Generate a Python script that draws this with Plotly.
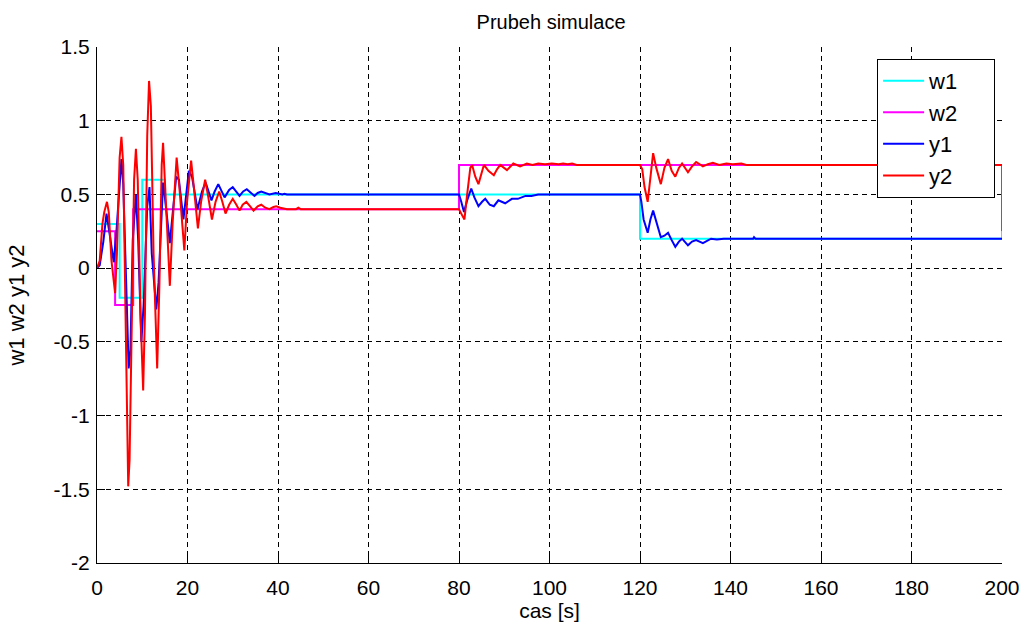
import plotly.graph_objects as go

# Reference signals (piecewise constant, drawn as steps)
w1_t = [0, 5, 10, 15, 120, 200]
w1_v = [0.3, -0.2, 0.6, 0.5, 0.2, 0.25]

w2_t = [0, 4, 8, 80, 200]
w2_v = [0.25, -0.25, 0.4, 0.7, 0.25]

# Output y1
y1_t = [0, 0.6, 1.4, 2.1, 2.9, 3.7, 4.3, 5.0, 5.4, 5.8, 6.5, 7.0, 7.4, 7.9, 8.6, 9.1,
        9.8, 10.3, 11.1, 11.6, 12.1, 13.1, 13.6, 14.6, 15.0, 16.1, 17.5, 18.1, 19.1,
        20.3, 21.0, 22.2, 23.2, 24.0, 25.3, 26.0, 26.8, 28.2, 29.2, 30.0, 31.5, 32.3,
        33.1, 34.8, 35.5, 36.3, 38.1, 39.5, 41.0, 41.4, 42.0, 80.0, 80.5, 81.1, 81.8,
        82.7, 83.4, 84.3, 85.1, 85.8, 86.8, 87.7, 88.7, 89.5, 90.2, 91.7, 93.0, 94.7,
        96.0, 97.5, 98.5, 120.0, 120.3, 120.8, 121.7, 122.3, 122.9, 123.6, 124.6, 125.4,
        126.2, 127.0, 127.8, 128.6, 129.3, 130.6, 131.5, 132.4, 133.9, 135.7, 137.0,
        138.5, 145.0, 145.2, 145.5, 200.0]
y1_v = [0, 0.02, 0.18, 0.37, 0.21, 0.04, 0.25, 0.6, 0.74, 0.57, -0.1, -0.68, -0.55, 0.19,
        0.5, 0.19, -0.5, -0.25, 0.42, 0.55, 0.1, -0.28, -0.1, 0.58, 0.48, 0.17, 0.62, 0.6,
        0.33, 0.66, 0.62, 0.40, 0.52, 0.58, 0.46, 0.52, 0.57, 0.48, 0.53, 0.55, 0.49, 0.52,
        0.535, 0.49, 0.51, 0.52, 0.50, 0.51, 0.5, 0.505, 0.5, 0.5, 0.45, 0.38, 0.46,
        0.54, 0.48, 0.42, 0.45, 0.47, 0.43, 0.42, 0.46, 0.45, 0.44, 0.47, 0.47, 0.49,
        0.49, 0.50, 0.5, 0.5, 0.45, 0.33, 0.24, 0.33, 0.39, 0.32, 0.21, 0.22,
        0.24, 0.19, 0.145, 0.18, 0.20, 0.155, 0.18, 0.19, 0.17, 0.20, 0.195,
        0.2, 0.2, 0.21, 0.2, 0.2]

# Output y2
y2_t = [0, 0.6, 1.2, 1.6, 2.2, 2.6, 3.2, 4.0, 4.4, 5.0, 5.4, 5.8, 6.3, 6.9, 7.2, 7.7,
        8.2, 8.6, 9.0, 9.6, 10.2, 10.6, 11.1, 11.5, 11.9, 12.5, 13.3, 13.8, 14.3, 14.6,
        15.1, 16.1, 16.7, 17.6, 18.2, 19.3, 19.9, 20.8, 21.4, 22.3, 23.0, 23.9, 24.6,
        25.4, 26.2, 27.0, 27.7, 28.4, 29.2, 30.0, 30.8, 31.5, 32.2, 33.0, 33.8, 34.6,
        35.5, 36.3, 37.2, 38.1, 39.0, 39.6, 40.5, 41.2, 42.0, 44.0, 44.5, 45.0,
        80.0, 80.5, 81.2, 81.8, 82.5, 82.9, 83.6, 84.3, 85.0, 85.5, 86.5, 87.7, 88.4,
        89.1, 90.6, 92.0, 93.5, 95.0, 96.2, 97.5, 99.0, 100.5, 102.0, 103.0, 104.0,
        105.0, 106.0, 120.0, 120.5, 121.0, 121.7, 122.3, 122.9, 123.6, 124.6, 125.4,
        126.2, 127.0, 127.8, 128.6, 129.3, 130.6, 131.5, 132.4, 133.9, 135.0, 136.1,
        137.5, 139.1, 140.5, 142.4, 143.5, 200.0]
y2_v = [0, 0.05, 0.3, 0.38, 0.45, 0.38, 0.05, -0.17, 0.1, 0.75, 0.89, 0.7, -0.3, -1.48,
        -1.3, -0.2, 0.6, 0.81, 0.6, -0.3, -0.83, -0.3, 0.9, 1.27, 1.1, 0.1, -0.68, -0.1,
        0.7, 0.85, 0.5, -0.12, 0.3, 0.75, 0.55, 0.12, 0.45, 0.73, 0.55, 0.27, 0.45, 0.6,
        0.48, 0.33, 0.45, 0.52, 0.45, 0.37, 0.43, 0.47, 0.43, 0.39, 0.43, 0.45, 0.42,
        0.39, 0.42, 0.43, 0.41, 0.40, 0.415, 0.42, 0.41, 0.405, 0.4, 0.4, 0.41, 0.4,
        0.4, 0.37, 0.33, 0.5, 0.68, 0.70, 0.62, 0.57, 0.65, 0.70, 0.66, 0.63, 0.67,
        0.70, 0.665, 0.71, 0.69, 0.71, 0.70, 0.71, 0.705, 0.71, 0.705, 0.71, 0.705,
        0.71, 0.7, 0.7, 0.67, 0.55, 0.45, 0.62, 0.78, 0.68, 0.57, 0.68,
        0.74, 0.66, 0.62, 0.68, 0.71, 0.65, 0.69, 0.72, 0.69, 0.705, 0.715,
        0.70, 0.71, 0.705, 0.71, 0.7, 0.7]

x_ticks = [0, 20, 40, 60, 80, 100, 120, 140, 160, 180, 200]
x_tick_labels = ["0", "20", "40", "60", "80", "100", "120", "140", "160", "180", "200"]
y_ticks = [-2, -1.5, -1, -0.5, 0, 0.5, 1, 1.5]
y_tick_labels = ["-2", "-1.5", "-1", "-0.5", "0", "0.5", "1", "1.5"]

FONT = "Liberation Sans, Arial, sans-serif"
# trailing non-breaking spaces give the legend box its right-hand padding
PAD = "&nbsp;" * 5
LW = 2

fig = go.Figure()
fig.add_trace(go.Scatter(x=w1_t, y=w1_v, name="w1" + PAD, mode="lines", line_shape="hv",
                         line=dict(color="#00FFFF", width=LW)))
fig.add_trace(go.Scatter(x=w2_t, y=w2_v, name="w2" + PAD, mode="lines", line_shape="hv",
                         line=dict(color="#FF00FF", width=LW)))
fig.add_trace(go.Scatter(x=y1_t, y=y1_v, name="y1" + PAD, mode="lines",
                         line=dict(color="#0000FF", width=LW)))
fig.add_trace(go.Scatter(x=y2_t, y=y2_v, name="y2" + PAD, mode="lines",
                         line=dict(color="#FF0000", width=LW)))

axis_common = dict(
    showgrid=True, gridcolor="black", gridwidth=1, griddash="5px,4px",
    zeroline=False, showline=True, linecolor="black", linewidth=1,
    ticks="inside", ticklen=8, tickcolor="black", tickwidth=1,
    tickfont=dict(family=FONT, size=21, color="black"),
)

fig.update_layout(
    width=1032, height=632,
    margin=dict(l=97, r=27, t=47, b=69),
    paper_bgcolor="white", plot_bgcolor="white",
    font=dict(family=FONT, size=20, color="black"),
    title=dict(text="Prubeh simulace", x=0.534, xanchor="center",
               y=1 - 22 / 632, yanchor="middle",
               font=dict(family=FONT, size=20, color="black")),
    xaxis=dict(range=[0, 200], tickvals=x_ticks, ticktext=x_tick_labels,
               ticklabelstandoff=6,
               title=dict(text="cas [s]", standoff=3,
                          font=dict(family=FONT, size=21, color="black")),
               **axis_common),
    yaxis=dict(range=[-2, 1.5], tickvals=y_ticks, ticktext=y_tick_labels,
               ticklabelstandoff=2,
               title=dict(text="w1 w2 y1 y2", standoff=22,
                          font=dict(family=FONT, size=22, color="black")),
               **axis_common),
    legend=dict(x=0.862, y=0.977, xanchor="left", yanchor="top",
                bgcolor="white", bordercolor="black", borderwidth=1,
                font=dict(family=FONT, size=22, color="black"),
                itemwidth=41, tracegroupgap=0),
    showlegend=True,
)

fig.write_html("out.html")
